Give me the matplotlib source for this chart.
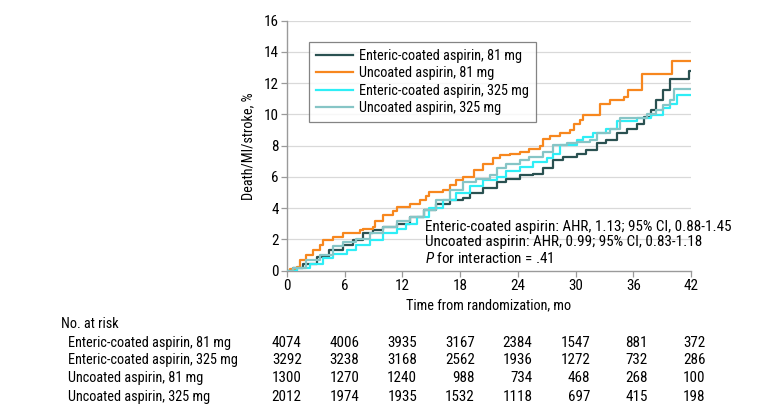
import matplotlib
matplotlib.use("Agg")
import matplotlib.pyplot as plt
import matplotlib.transforms as mtransforms

plt.rcParams["font.family"] = ["Roboto Condensed", "Liberation Sans", "DejaVu Sans"]
plt.rcParams["mathtext.fontset"] = "custom"
plt.rcParams["mathtext.it"] = "Roboto Condensed:italic"
plt.rcParams["mathtext.rm"] = "Roboto Condensed"
FS = 10.3     # text
FN = 10.9     # numbers / ticks

# ---------------------------------------------------------------- data
ec81_t = [0, 0.6, 1.7, 3.1, 4.4, 5.8, 6.9, 7.9, 8.9, 10, 11.4, 12.8, 14.2, 15.5, 16.9,
          18.3, 19, 20.4, 21.8, 22.8, 24.2, 25.6, 26.6, 27.7, 28.7, 30.1, 31.1, 32.2,
          33.2, 34.3, 35.3, 36.4, 37.1, 37.8, 38.4, 39.1, 39.8, 41.8, 42]
ec81_y = [0, 0.15, 0.45, 0.9, 1.3, 1.65, 1.95, 2.4, 2.6, 2.8, 3.0, 3.45, 3.9, 4.3, 4.5,
          4.65, 4.95, 5.3, 5.7, 5.9, 6.1, 6.2, 6.55, 7.1, 7.3, 7.5, 7.7, 8.15,
          8.35, 8.8, 9.1, 9.4, 9.85, 10.3, 10.9, 11.55, 12.3, 12.75, 12.75]

uc81_t = [0, 0.3, 1, 1.3, 2, 2.7, 3.4, 3.75, 4.8, 5.8, 7.6, 7.9, 8.9, 9.1, 10, 11, 11.4,
          12.8, 13.8, 14.5, 14.8, 16.2, 16.9, 17.6, 18.3, 19.4, 20.4, 21.4, 22.1, 23.2,
          24.2, 25.2, 26.3, 26.6, 27.3, 28.4, 29.4, 29.8, 30.5, 30.8, 32.5, 33.6, 35,
          35.5, 36.9, 40, 42]
uc81_y = [0, 0.1, 0.25, 0.7, 1.0, 1.3, 1.65, 1.95, 2.15, 2.4, 2.6, 2.7, 2.8, 3.2, 3.55, 3.8, 4.1,
          4.3, 4.5, 4.75, 5.05, 5.15, 5.5, 5.8, 6.0, 6.45, 6.85, 7.2, 7.4, 7.5,
          7.6, 7.8, 7.95, 8.45, 8.6, 8.8, 9.0, 9.4, 9.65, 9.95, 10.7, 10.9, 11.1,
          11.55, 12.6, 13.45, 13.45]

ec325_t = [0, 1, 2.4, 3.7, 4.8, 6.2, 7.2, 8.6, 10, 11.4, 12.4, 13.5, 14.8, 16.2, 17.6,
           19, 20.4, 21.8, 22.8, 24.2, 25.6, 27, 27.7, 28.4, 30.1, 30.8, 31.8, 33.2,
           34.3, 36.4, 37.8, 39.1, 39.8, 40.5, 42]
ec325_y = [0, 0.15, 0.45, 0.8, 1.1, 1.3, 1.65, 1.95, 2.4, 2.7, 3.0, 3.45, 4.0, 4.5, 4.95,
           5.4, 5.8, 6.0, 6.35, 6.65, 6.95, 7.2, 7.5, 8.05, 8.35, 8.55, 8.8, 9.1,
           9.55, 9.75, 9.95, 10.4, 10.7, 11.25, 11.25]

uc325_t = [0, 0.6, 2, 3.4, 4.8, 5.8, 7.2, 8.6, 10, 11.4, 12.8, 14.2, 15.5, 16.9, 18.3,
           19.7, 21.1, 21.8, 22.8, 24.2, 25.2, 26.6, 27.7, 29.1, 30.1, 31.5, 32.2, 33.6,
           34.6, 37.4, 38.4, 39.1, 39.8, 40.2, 42]
uc325_y = [0, 0.15, 0.7, 1.0, 1.55, 1.85, 2.05, 2.4, 2.8, 3.15, 3.45, 3.9, 4.5, 5.15, 5.7,
           5.9, 6.1, 6.55, 6.85, 7.1, 7.3, 7.6, 8.05, 8.15, 8.25, 8.35, 8.8, 9.1,
           9.75, 10.05, 10.3, 10.6, 10.9, 11.65, 11.65]

risk_times = [0, 6, 12, 18, 24, 30, 36, 42]
risk_labels = ["Enteric-coated aspirin, 81 mg", "Enteric-coated aspirin, 325 mg",
               "Uncoated aspirin, 81 mg", "Uncoated aspirin, 325 mg"]
risk_counts = [
    [4074, 4006, 3935, 3167, 2384, 1547, 881, 372],
    [3292, 3238, 3168, 2562, 1936, 1272, 732, 286],
    [1300, 1270, 1240, 988, 734, 468, 268, 100],
    [2012, 1974, 1935, 1532, 1118, 697, 415, 198],
]

C = {"ec81": "#2a5151", "uc81": "#f7871e", "ec325": "#2eeef6", "uc325": "#86c5c6"}

# ---------------------------------------------------------------- figure
W, H = 780, 416
fig = plt.figure(figsize=(W / 100, H / 100), dpi=100)
ax = fig.add_axes([287 / W, 1 - 270.7 / H, (691 - 287) / W, 250 / H])

series = [(ec81_t, ec81_y, C["ec81"], "Enteric-coated aspirin, 81 mg"),
          (uc81_t, uc81_y, C["uc81"], "Uncoated aspirin, 81 mg"),
          (ec325_t, ec325_y, C["ec325"], "Enteric-coated aspirin, 325 mg"),
          (uc325_t, uc325_y, C["uc325"], "Uncoated aspirin, 325 mg")]
handles = {}
for i in [2, 3, 0, 1]:
    t, y, col, lab = series[i]
    handles[i], = ax.plot(t, y, drawstyle="steps-post", color=col, lw=1.6, label=lab,
                          zorder=3 + i * 0.1)

ax.set_xlim(0, 42)
ax.set_ylim(0, 16)
ax.set_xticks(range(0, 43, 6))
ax.set_yticks(range(0, 17, 2))
for v in range(2, 17, 2):
    ax.axhline(v, color="#d9d9d9", lw=0.9, zorder=1)
for s in ("top", "right"):
    ax.spines[s].set_visible(False)
for s in ("left", "bottom"):
    ax.spines[s].set_color("#9a9a9a")
    ax.spines[s].set_linewidth(1.0)
ax.tick_params(length=4, width=0.9, color="#9a9a9a", labelsize=FN, pad=2)
ax.set_ylabel("Death/MI/stroke, %", fontsize=FS, labelpad=6)
ax.set_xlabel("Time from randomization, mo", fontsize=FS, labelpad=4)

leg = ax.legend([handles[i] for i in range(4)], [series[i][3] for i in range(4)],
                loc="upper left", bbox_to_anchor=(0.054, 0.914), borderaxespad=0,
                fontsize=FS, frameon=True, fancybox=False, edgecolor="#666666",
                handlelength=2.6, handletextpad=0.4, labelspacing=0.22, borderpad=0.5)
leg.get_frame().set_linewidth(0.9)

ax.text(0.342, 0.111, "Enteric-coated aspirin: AHR, 1.13; 95% CI, 0.88-1.45\n"
        "Uncoated aspirin: AHR, 0.99; 95% CI, 0.83-1.18\n"
        "$P$ for interaction = .41", transform=ax.transAxes, fontsize=FS + 0.6,
        va="center", ha="left", linespacing=1.13, clip_on=False, zorder=5)

# ---------------------------------------------------------------- risk table
trans = mtransforms.blended_transform_factory(ax.transData, fig.transFigure)
fig.text(61 / W, 1 - 324 / H, "No. at risk", fontsize=FS, va="center", ha="left")
row_y = [342.7, 360.3, 378.3, 396.7]
for lab, counts, yy in zip(risk_labels, risk_counts, row_y):
    fig.text(68.5 / W, 1 - yy / H, lab, fontsize=FS, va="center", ha="left")
    for t, n in zip(risk_times, counts):
        ax.text(t + 1.53, 1 - yy / H, str(n), transform=trans, fontsize=FN,
                va="center", ha="right", clip_on=False)

fig.savefig("out.png", dpi=100)
